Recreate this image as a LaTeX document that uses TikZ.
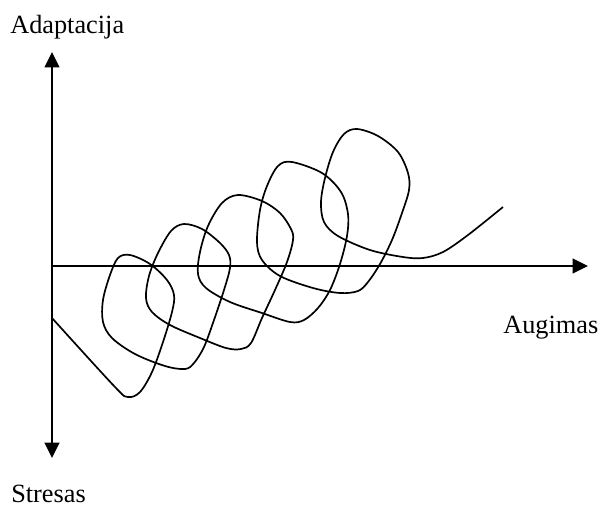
\documentclass[tikz,border=0pt]{standalone}
\usepackage{fontspec}
\setmainfont{Liberation Serif}
\usetikzlibrary{arrows.meta}

\begin{document}
\begin{tikzpicture}[
  x=0.025cm, y=-0.025cm,
  axis/.style={black, line width=1.6pt, {Triangle[length=11pt, width=10.5pt]}-{Triangle[length=11pt, width=10.5pt]}},
  xaxis/.style={black, line width=1.6pt, -{Triangle[length=11pt, width=10.5pt]}},
  curve/.style={black, line width=1.2pt, line join=round},
  axislabel/.style={black, inner sep=0pt, font=\fontsize{18.7}{22}\selectfont},
]
\useasboundingbox (0,0) rectangle (600,508);

% ===== Axes =====
\coordinate (origin) at (52,266);
\coordinate (ytop) at (52,52);
\coordinate (ybot) at (52,458);
\coordinate (xend) at (588,266);

\draw[axis] (ybot) -- (ytop);
\draw[xaxis] (origin) -- (xend);

% ===== Labels =====
\node[axislabel, anchor=base west] (adapt) at (10,33) {Adaptacija};
\node[axislabel, anchor=base west] (augim) at (503,333) {Augimas};
\node[axislabel, anchor=base west] (stres) at (11,502) {Stresas};

% ===== Looping curve =====
\draw[curve] plot[smooth, tension=0.55] coordinates {
  (52,318) (115,387) (128,397) (140,392) (152,372) (163,342)
  (172,312) (174,295) (167,280) (150,264) (130,255) (118,258) (110,275)
  (103,300) (103,322) (112,338) (135,354) (165,366) (185,369) (194,363)
  (204,347) (214,320) (224,290) (230,268) (229,255) (220,243) (202,229)
  (184,224) (171,231) (158,253) (149,276) (146,298) (152,312) (170,325)
  (200,338) (226,348) (241,349) (251,343) (262,318) (275,290) (287,262)
  (293,240) (291,229) (280,213) (262,201) (238,195) (222,203) (208,226)
  (200,252) (198,274) (206,288) (230,302) (262,313) (290,322) (304,320)
  (318,308) (330,290) (340,264) (347,236) (348,214) (341,192) (322,173)
  (292,162) (278,166) (267,186) (260,210) (257,242) (262,260) (280,276)
  (313,288) (340,293) (358,291) (368,282) (380,264) (392,240) (402,213)
  (409,190) (408,173) (398,152) (378,136) (357,129) (344,134) (333,152)
  (325,178) (321,202) (324,222) (338,236) (370,250) (403,257) (423,258)
  (443,252) (468,235) (503,207)
};

\end{tikzpicture}
\end{document}
